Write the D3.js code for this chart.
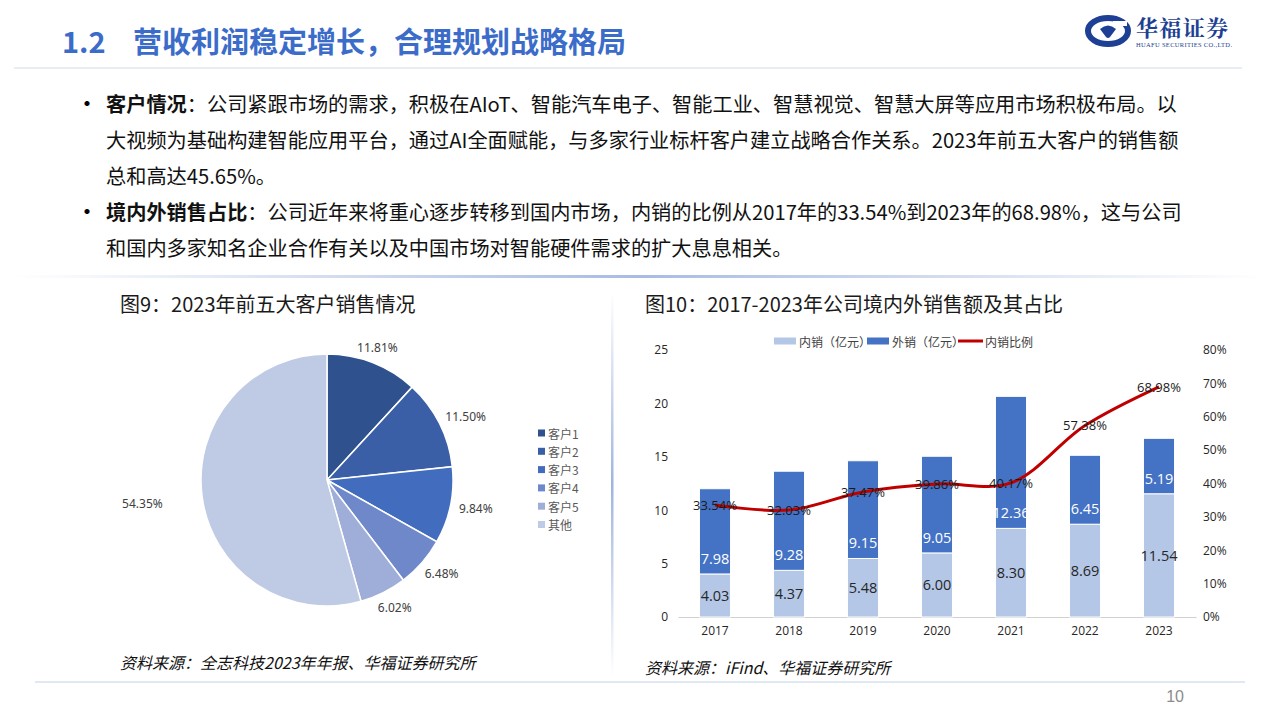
<!DOCTYPE html>
<html><head><meta charset="utf-8">
<script src="https://cdn.jsdelivr.net/npm/d3@7/dist/d3.min.js"></script>
<style>
html,body{margin:0;padding:0;background:#fff;}
svg{display:block;font-family:"Noto Sans CJK SC","Noto Sans",sans-serif;}
</style></head>
<body>
<svg id="c" width="1280" height="720"></svg>
<script>
// ---------- data ----------
const pieCategories = ["客户1","客户2","客户3","客户4","客户5","其他"];
const pieValues = [11.81, 11.50, 9.84, 6.48, 6.02, 54.35];
const pieColors = ["#2f528f","#3a5fa6","#426dbe","#6f88ca","#9eaed9","#bfcae5"];

const years = ["2017","2018","2019","2020","2021","2022","2023"];
const domestic = [4.03, 4.37, 5.48, 6.00, 8.30, 8.69, 11.54];
const overseas = [7.98, 9.28, 9.15, 9.05, 12.36, 6.45, 5.19];
const domesticRatio = [33.54, 32.03, 37.47, 39.86, 40.17, 57.38, 68.98];
const leftTicks = [0, 5, 10, 15, 20, 25];
const rightTicks = [0, 10, 20, 30, 40, 50, 60, 70, 80];
const seriesNames = ["内销（亿元）","外销（亿元）","内销比例"];

const bullets = [
  {b:"客户情况", lines:["：公司紧跟市场的需求，积极在AIoT、智能汽车电子、智能工业、智慧视觉、智慧大屏等应用市场积极布局。以",
    "大视频为基础构建智能应用平台，通过AI全面赋能，与多家行业标杆客户建立战略合作关系。2023年前五大客户的销售额",
    "总和高达45.65%。"]},
  {b:"境内外销售占比", lines:["：公司近年来将重心逐步转移到国内市场，内销的比例从2017年的33.54%到2023年的68.98%，这与公司",
    "和国内多家知名企业合作有关以及中国市场对智能硬件需求的扩大息息相关。"]}
];

const svg = d3.select("#c");
const defs = svg.append("defs");

// ---------- header ----------
svg.append("text").attr("x",62).attr("y",53).attr("font-size",29).attr("font-weight","bold")
  .attr("fill","#3b6cc9").text("1.2");
svg.append("text").attr("x",133).attr("y",53).attr("font-size",29).attr("font-weight","bold")
  .attr("fill","#3b6cc9").text("营收利润稳定增长，合理规划战略格局");
svg.append("line").attr("x1",14).attr("x2",1242).attr("y1",68).attr("y2",68)
  .attr("stroke","#dfe6f2").attr("stroke-width",1.5);

// logo
const logo = svg.append("g").attr("transform","translate(1108,31)");
logo.append("ellipse").attr("rx",20).attr("ry",13).attr("fill","none").attr("stroke","#1d3f94").attr("stroke-width",6);
logo.append("path").attr("d","M-8,-2 Q0,-9 8,-2 L2,6 Q0,8 -2,6 Z").attr("fill","#1d3f94");
logo.append("rect").attr("x",5).attr("y",-10).attr("width",14).attr("height",5).attr("fill","#fff");
svg.append("text").attr("x",1136).attr("y",36).attr("font-size",22).attr("font-weight","bold")
  .attr("font-family","'Noto Serif CJK SC','Noto Sans CJK SC',serif").attr("fill","#1d3f94")
  .attr("textLength",92).text("华福证券");
svg.append("text").attr("x",1136).attr("y",47).attr("font-size",6.5)
  .attr("font-family","'Liberation Serif',serif").attr("fill","#1d3f94")
  .attr("textLength",96).text("HUAFU SECURITIES CO.,LTD.");

// ---------- bullets ----------
let ly = 112;
bullets.forEach(bl => {
  svg.append("text").attr("x",75).attr("y",ly).attr("font-size",24).attr("fill","#000").text("•");
  bl.lines.forEach((ln,i) => {
    const t = svg.append("text").attr("x",106).attr("y",ly).attr("font-size",20.2).attr("fill","#111");
    if (i===0) t.append("tspan").attr("font-weight","bold").text(bl.b);
    t.append("tspan").text(ln);
    ly += 36;
  });
});

// ---------- separators ----------
const hg = defs.append("linearGradient").attr("id","hg").attr("x1","0").attr("x2","1");
hg.append("stop").attr("offset","0").attr("stop-color","#a8bbe2").attr("stop-opacity",0);
hg.append("stop").attr("offset","0.5").attr("stop-color","#a8bbe2").attr("stop-opacity",1);
hg.append("stop").attr("offset","1").attr("stop-color","#a8bbe2").attr("stop-opacity",0);
svg.append("rect").attr("x",14).attr("y",275).attr("width",1250).attr("height",3).attr("fill","url(#hg)");
const vg = defs.append("linearGradient").attr("id","vg").attr("x1","0").attr("x2","0").attr("y1","0").attr("y2","1");
vg.append("stop").attr("offset","0").attr("stop-color","#9fb3de").attr("stop-opacity",0);
vg.append("stop").attr("offset","0.5").attr("stop-color","#9fb3de").attr("stop-opacity",1);
vg.append("stop").attr("offset","1").attr("stop-color","#9fb3de").attr("stop-opacity",0);
svg.append("rect").attr("x",611).attr("y",292).attr("width",2.5).attr("height",385).attr("fill","url(#vg)");
svg.append("line").attr("x1",35).attr("x2",1245).attr("y1",682).attr("y2",682)
  .attr("stroke","#d6e0ef").attr("stroke-width",1.5);
svg.append("text").attr("x",1184).attr("y",702).attr("text-anchor","end").attr("font-size",16)
  .attr("font-family","'Liberation Sans Narrow','Liberation Sans',sans-serif").attr("fill","#8c8c8c").text("10");

// chart titles
svg.append("text").attr("x",120).attr("y",312).attr("font-size",20).attr("fill","#1a1a1a").text("图9：2023年前五大客户销售情况");
svg.append("text").attr("x",645).attr("y",312).attr("font-size",20).attr("fill","#1a1a1a").text("图10：2017-2023年公司境内外销售额及其占比");
// sources
svg.append("text").attr("x",120).attr("y",669).attr("font-size",16).attr("font-style","italic").attr("fill","#111").text("资料来源：全志科技2023年年报、华福证券研究所");
svg.append("text").attr("x",645).attr("y",674).attr("font-size",16).attr("font-style","italic").attr("fill","#111").text("资料来源：iFind、华福证券研究所");

// ---------- pie ----------
const cx = 327, cy = 480, R = 126;
const pie = d3.pie().sort(null).value(d => d)(pieValues);
const arc = d3.arc().innerRadius(0).outerRadius(R);
const pg = svg.append("g").attr("transform",`translate(${cx},${cy})`);
pg.selectAll("path").data(pie).join("path").attr("d",arc)
  .attr("fill",(d,i)=>pieColors[i]).attr("stroke","#fff").attr("stroke-width",1.5);
pie.forEach((d,i) => {
  const a = (d.startAngle + d.endAngle)/2;
  const s = Math.sin(a), c = -Math.cos(a);
  const rr = R + (i===5 ? 40 : 9);
  const t = pg.append("text").attr("font-size",12).attr("fill","#404040")
    .attr("font-family","'Liberation Sans Narrow','Noto Sans',sans-serif")
    .attr("text-anchor","middle").attr("dominant-baseline","central").text(pieValues[i].toFixed(2)+"%");
  const w = t.node().getComputedTextLength();
  t.attr("x", rr*s + w/2*s*(i===0?0.2:1)).attr("y", rr*c + 7*c);
});
// pie legend
const lg = svg.append("g").attr("transform","translate(538,433)");
pieCategories.forEach((n,i) => {
  const g = lg.append("g").attr("transform",`translate(0,${i*18.3})`);
  g.append("rect").attr("x",0).attr("y",-3.5).attr("width",7).attr("height",7).attr("fill",pieColors[i]);
  g.append("text").attr("x",10).attr("y",0).attr("dominant-baseline","central").attr("font-size",12)
    .attr("fill","#595959").text(n);
});

// ---------- bar + line ----------
const x = d3.scaleBand().domain(years).range([678,1196]).paddingInner(0.58).paddingOuter(0.29);
const y = d3.scaleLinear().domain([0,25]).range([617,350]);
const y2 = d3.scaleLinear().domain([0,80]).range([617,350]);
const numFont = "'Open Sans','Noto Sans',sans-serif";

const ax = svg.append("g").attr("transform","translate(0,617)")
  .call(d3.axisBottom(x).tickSize(0).tickPadding(9));
ax.select(".domain").attr("stroke","#d0d0d0").attr("stroke-width",1.2);
ax.selectAll("text").attr("font-size",12).attr("fill","#262626").attr("font-family",numFont);

const ayl = svg.append("g").attr("transform","translate(668,0)")
  .call(d3.axisLeft(y).tickValues(leftTicks).tickSize(0).tickPadding(0));
ayl.select(".domain").remove();
ayl.selectAll("text").attr("font-size",12).attr("fill","#262626").attr("font-family",numFont);

const ayr = svg.append("g").attr("transform","translate(1203,0)")
  .call(d3.axisRight(y2).tickValues(rightTicks).tickSize(0).tickPadding(0).tickFormat(d=>d+"%"));
ayr.select(".domain").remove();
ayr.selectAll("text").attr("font-size",12).attr("fill","#262626").attr("font-family",numFont);

const bw = x.bandwidth();
const bars = svg.append("g");
years.forEach((yr,i) => {
  const x0 = x(yr);
  bars.append("rect").attr("x",x0).attr("width",bw).attr("y",y(domestic[i])).attr("height",y(0)-y(domestic[i]))
    .attr("fill","#b4c7e7").attr("stroke","#fff").attr("stroke-width",1);
  const top = domestic[i]+overseas[i];
  bars.append("rect").attr("x",x0).attr("width",bw).attr("y",y(top)).attr("height",y(domestic[i])-y(top))
    .attr("fill","#4472c4").attr("stroke","#fff").attr("stroke-width",1);
  // domestic: centered; overseas: inside base
  bars.append("text").attr("x",x0+bw/2).attr("y",y(domestic[i]/2)).attr("text-anchor","middle")
    .attr("dominant-baseline","central").attr("font-size",14.5).attr("font-family",numFont)
    .attr("fill","#262626").text(domestic[i].toFixed(2));
  bars.append("text").attr("x",x0+bw/2).attr("y",y(domestic[i])-15.5).attr("text-anchor","middle")
    .attr("dominant-baseline","central").attr("font-size",14.5).attr("font-family",numFont)
    .attr("fill","#fff").text(overseas[i].toFixed(2));
});

const line = d3.line().x((d,i)=>x(years[i])+bw/2).y(d=>y2(d)).curve(d3.curveCatmullRom.alpha(0.5));
svg.append("path").datum(domesticRatio).attr("d",line).attr("fill","none")
  .attr("stroke","#c00000").attr("stroke-width",3);
domesticRatio.forEach((v,i) => {
  svg.append("text").attr("x",x(years[i])+bw/2).attr("y",y2(v)).attr("text-anchor","middle")
    .attr("dominant-baseline","central").attr("font-size",13).attr("font-family",numFont)
    .attr("fill","#1a1a1a").text(v.toFixed(2)+"%");
});

// legend
const bl = svg.append("g").attr("transform","translate(0,341)");
bl.append("rect").attr("x",774).attr("y",-3.5).attr("width",22).attr("height",7).attr("fill","#b4c7e7");
bl.append("text").attr("x",799).attr("y",0).attr("dominant-baseline","central").attr("font-size",12).attr("fill","#404040").text(seriesNames[0]);
bl.append("rect").attr("x",867).attr("y",-3.5).attr("width",22).attr("height",7).attr("fill","#4472c4");
bl.append("text").attr("x",892).attr("y",0).attr("dominant-baseline","central").attr("font-size",12).attr("fill","#404040").text(seriesNames[1]);
bl.append("line").attr("x1",958).attr("x2",983).attr("y1",0).attr("y2",0).attr("stroke","#c00000").attr("stroke-width",3);
bl.append("text").attr("x",985).attr("y",0).attr("dominant-baseline","central").attr("font-size",12).attr("fill","#404040").text(seriesNames[2]);
</script>
</body></html>
